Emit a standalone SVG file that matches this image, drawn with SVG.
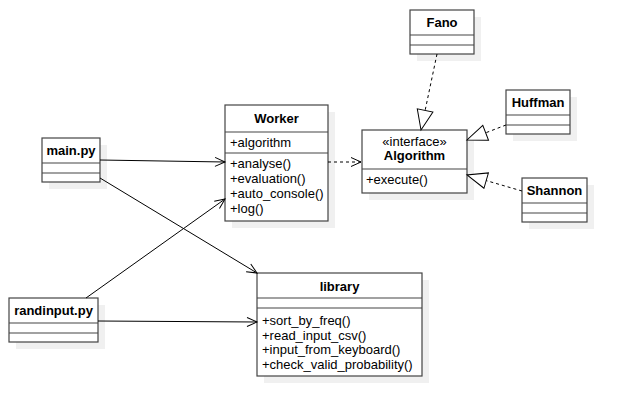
<svg xmlns="http://www.w3.org/2000/svg" width="626" height="416" viewBox="0 0 626 416">
<style>
.sh{fill:#f0f0f0;stroke:none}
.bx{fill:#fff;stroke:#444;stroke-width:1.2}
.dv{stroke:#444;stroke-width:1.2;fill:none}
.t{font-family:"Liberation Sans",Arial,sans-serif;font-size:13px;fill:#000}
.b{font-weight:bold;text-anchor:middle}
.c{text-anchor:middle}
.ln{fill:none;stroke:#000;stroke-width:1}
.dash{stroke-dasharray:3 3}
</style>
<defs>
<marker id="open" markerUnits="userSpaceOnUse" markerWidth="12" markerHeight="12" refX="10" refY="5" orient="auto" overflow="visible">
<path d="M0,0.5 L10,5 L0,9.5" fill="none" stroke="#000" stroke-width="1"/>
</marker>
<marker id="tri" markerUnits="userSpaceOnUse" markerWidth="22" markerHeight="18" refX="20" refY="8" orient="auto" overflow="visible">
<path d="M0,0 L20,8 L0,16 Z" fill="#fff" stroke="#000" stroke-width="1"/>
</marker>
</defs>
<rect width="626" height="416" fill="#fff"/>

<g id="fano">
<rect class="sh" x="417" y="17" width="64" height="44"/>
<rect class="bx" x="410" y="10" width="64" height="44"/>
<path class="dv" d="M410,35 H474 M410,45 H474"/>
<text class="t b" x="442" y="27">Fano</text>
</g>

<g id="huffman">
<rect class="sh" x="513" y="97" width="64" height="44"/>
<rect class="bx" x="506" y="90" width="64" height="44"/>
<path class="dv" d="M506,115 H570 M506,125 H570"/>
<text class="t b" x="538" y="107">Huffman</text>
</g>

<g id="shannon">
<rect class="sh" x="529" y="185" width="65" height="44"/>
<rect class="bx" x="522" y="178" width="65" height="44"/>
<path class="dv" d="M522,203 H587 M522,213 H587"/>
<text class="t b" x="554.5" y="195">Shannon</text>
</g>

<g id="algorithm">
<rect class="sh" x="369" y="137" width="105" height="63"/>
<rect class="bx" x="362" y="130" width="105" height="63"/>
<path class="dv" d="M362,169 H467"/>
<text class="t c" x="414.5" y="146">«interface»</text>
<text class="t b" x="414.5" y="160">Algorithm</text>
<text class="t" x="366" y="184">+execute()</text>
</g>

<g id="worker">
<rect class="sh" x="232" y="112" width="103" height="116"/>
<rect class="bx" x="225" y="105" width="103" height="116"/>
<path class="dv" d="M225,132 H328 M225,153 H328"/>
<text class="t b" x="276.5" y="123">Worker</text>
<text class="t" x="230" y="147">+algorithm</text>
<text class="t" x="230" y="168">+analyse()</text>
<text class="t" x="230" y="183">+evaluation()</text>
<text class="t" x="230" y="198">+auto_console()</text>
<text class="t" x="230" y="213">+log()</text>
</g>

<g id="main">
<rect class="sh" x="49" y="145" width="58" height="44"/>
<rect class="bx" x="42" y="138" width="58" height="44"/>
<path class="dv" d="M42,163 H100 M42,173 H100"/>
<text class="t b" x="71" y="155">main.py</text>
</g>

<g id="randinput">
<rect class="sh" x="16" y="305" width="89" height="44"/>
<rect class="bx" x="9" y="298" width="89" height="44"/>
<path class="dv" d="M9,323 H98 M9,333 H98"/>
<text class="t b" x="53.5" y="315">randinput.py</text>
</g>

<g id="library">
<rect class="sh" x="264" y="280" width="165" height="103"/>
<rect class="bx" x="257" y="273" width="165" height="103"/>
<path class="dv" d="M257,298 H422 M257,308 H422"/>
<text class="t b" x="339.5" y="290.5">library</text>
<text class="t" x="262" y="325">+sort_by_freq()</text>
<text class="t" x="262" y="339.5">+read_input_csv()</text>
<text class="t" x="262" y="354">+input_from_keyboard()</text>
<text class="t" x="262" y="368.5">+check_valid_probability()</text>
</g>

<g id="connectors">
<path class="ln" d="M100,160 L225,162" marker-end="url(#open)"/>
<path class="ln" d="M100,178 L257,273" marker-end="url(#open)"/>
<path class="ln" d="M86,298 L225,199" stroke="#333" marker-end="url(#open)"/>
<path class="ln" d="M98,321 L257,322" marker-end="url(#open)"/>
<path class="ln dash" d="M328,162 L361,162" marker-end="url(#open)"/>
<path class="ln dash" d="M437,54 L421,130" marker-end="url(#tri)"/>
<path class="ln dash" d="M506,125 L467,140" marker-end="url(#tri)"/>
<path class="ln dash" d="M522,191 L467,175" marker-end="url(#tri)"/>
</g>
</svg>
